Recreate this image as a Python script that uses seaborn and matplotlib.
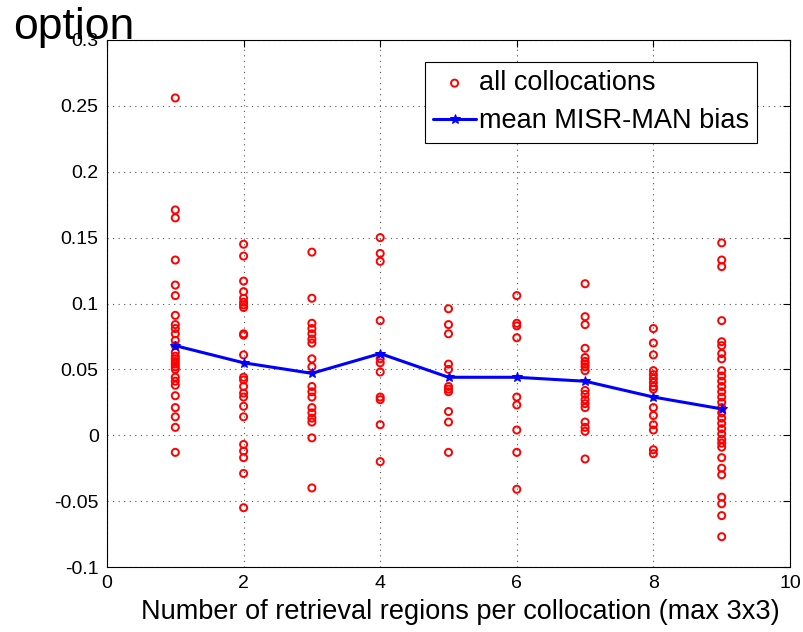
import numpy as np
import pandas as pd
import matplotlib
matplotlib.use("Agg")
import matplotlib.pyplot as plt
import seaborn as sns

# AOD bias (MISR - MAN) of each collocation, grouped by number of retrieval regions
n_regions = [1, 2, 3, 4, 5, 6, 7, 8, 9]
bias_1 = [0.256, 0.171, 0.165, 0.133, 0.114, 0.106, 0.091, 0.084, 0.081, 0.077, 0.072,
          0.068, 0.063, 0.060, 0.058, 0.056, 0.054, 0.052, 0.050, 0.044, 0.041, 0.038,
          0.030, 0.021, 0.014, 0.006, -0.013]
bias_2 = [0.145, 0.136, 0.117, 0.109, 0.104, 0.101, 0.099, 0.097, 0.077, 0.076, 0.061,
          0.044, 0.042, 0.037, 0.032, 0.029, 0.022, 0.014, -0.007, -0.012, -0.017,
          -0.029, -0.055]
bias_3 = [0.139, 0.104, 0.085, 0.081, 0.077, 0.073, 0.070, 0.058, 0.052, 0.037, 0.033,
          0.029, 0.021, 0.017, 0.013, 0.010, -0.002, -0.040]
bias_4 = [0.150, 0.138, 0.132, 0.087, 0.058, 0.055, 0.048, 0.029, 0.027, 0.008, -0.020]
bias_5 = [0.096, 0.084, 0.077, 0.054, 0.050, 0.037, 0.035, 0.033, 0.018, 0.010, -0.013]
bias_6 = [0.106, 0.085, 0.083, 0.074, 0.029, 0.023, 0.004, -0.013, -0.041]
bias_7 = [0.115, 0.090, 0.084, 0.066, 0.059, 0.056, 0.054, 0.052, 0.049, 0.034, 0.031,
          0.027, 0.024, 0.021, 0.010, 0.006, 0.003, -0.018]
bias_8 = [0.081, 0.070, 0.061, 0.049, 0.046, 0.043, 0.040, 0.037, 0.035, 0.021, 0.015,
          0.008, 0.004, -0.011, -0.014]
bias_9 = [0.146, 0.133, 0.128, 0.087, 0.071, 0.068, 0.062, 0.058, 0.049, 0.045, 0.041,
          0.037, 0.033, 0.029, 0.025, 0.021, 0.017, 0.013, 0.009, 0.005, 0.001, -0.003,
          -0.006, -0.009, -0.017, -0.025, -0.030, -0.047, -0.052, -0.061, -0.077]
mean_bias = [0.068, 0.055, 0.047, 0.062, 0.044, 0.044, 0.041, 0.029, 0.020]

x_ticks = [0, 2, 4, 6, 8, 10]
y_ticks = [-0.1, -0.05, 0, 0.05, 0.1, 0.15, 0.2, 0.25, 0.3]
y_tick_labels = ["-0.1", "-0.05", "0", "0.05", "0.1", "0.15", "0.2", "0.25", "0.3"]

groups = [bias_1, bias_2, bias_3, bias_4, bias_5, bias_6, bias_7, bias_8, bias_9]
points = pd.DataFrame({
    "regions": np.concatenate([[n] * len(g) for n, g in zip(n_regions, groups)]),
    "bias": np.concatenate(groups),
})
means = pd.DataFrame({"regions": n_regions, "bias": mean_bias})

sns.set_style("white")
plt.rcParams["font.family"] = ["Liberation Sans", "DejaVu Sans"]
plt.rcParams["text.color"] = "black"
plt.rcParams["axes.labelcolor"] = "black"

fig = plt.figure(figsize=(8.04, 6.32), dpi=100)
ax = fig.add_axes([107 / 804, 1 - 567 / 632, 683 / 804, 527 / 632])

sns.scatterplot(data=points, x="regions", y="bias", ax=ax, marker="o", s=26,
                facecolors="none", edgecolor="red", linewidth=1.4,
                label="all collocations", zorder=3)
sns.lineplot(data=means, x="regions", y="bias", ax=ax, color="blue", linewidth=2.2,
             marker="*", markersize=7, markeredgecolor="blue",
             label="mean MISR-MAN bias", zorder=4)

ax.set_xlim(0, 10)
ax.set_ylim(-0.1, 0.3)
ax.set_xticks(x_ticks)
ax.set_yticks(y_ticks)
ax.set_yticklabels(y_tick_labels)
ax.tick_params(direction="in", length=5, width=0.8, top=True, right=True,
               labelsize=14, colors="black", pad=6)
for s in ax.spines.values():
    s.set_visible(True)
    s.set_color("black")
    s.set_linewidth(0.8)
ax.grid(True, linestyle=(0, (1, 4)), color="#555555", linewidth=0.8)
ax.set_axisbelow(True)
ax.set_xlabel("Number of retrieval regions per collocation (max 3x3)", fontsize=19.5,
              va="center")
ax.xaxis.set_label_coords(0.518, -0.086)
ax.set_ylabel("")

leg = ax.legend(loc="upper right", bbox_to_anchor=(0.952, 0.958), borderaxespad=0,
                fontsize=19.5, frameon=True, fancybox=False, edgecolor="black",
                framealpha=1, borderpad=0.3, labelspacing=0.45, handlelength=1.6,
                handletextpad=0.1)
leg.get_frame().set_linewidth(0.8)

fig.text(13 / 804, 1 - 39 / 632, "option", fontsize=32, va="baseline", ha="left")

fig.savefig("out.png", dpi=100)
